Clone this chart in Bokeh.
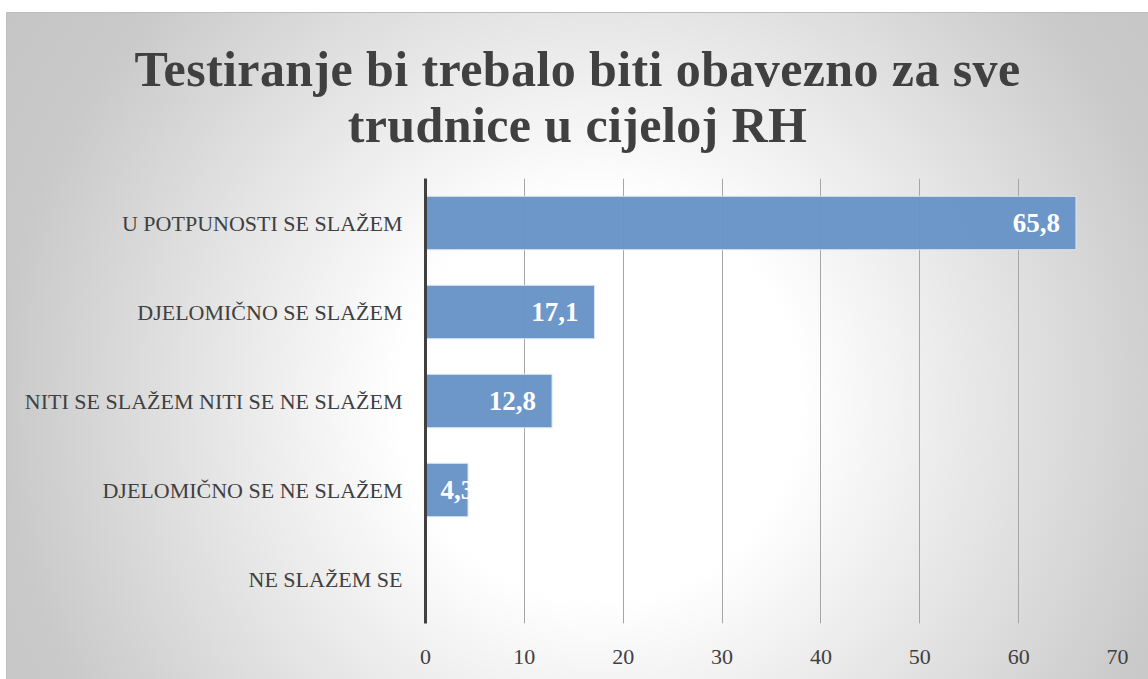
from bokeh.plotting import figure
from bokeh.models import Range1d, FactorRange, ColumnDataSource, FixedTicker, Div
from bokeh.layouts import column
from bokeh.core.properties import value
from bokeh.embed import file_html
from bokeh.resources import INLINE

categories = ["U POTPUNOSTI SE SLAŽEM", "DJELOMIČNO SE SLAŽEM",
              "NITI SE SLAŽEM NITI SE NE SLAŽEM", "DJELOMIČNO SE NE SLAŽEM", "NE SLAŽEM SE"]
values = [65.8, 17.1, 12.8, 4.3, 0]
x_ticks = [0, 10, 20, 30, 40, 50, 60, 70]
title_line1 = "Testiranje bi trebalo biti obavezno za sve"
title_line2 = "trudnice u cijeloj RH"

FONT = "Liberation Serif"
TXT = "#404040"
W = 1141

title_div = Div(text=f"{title_line1}<br>{title_line2}", width=W, height=160, margin=0,
                styles={"text-align": "center", "font-family": FONT, "font-weight": "bold",
                        "font-size": "50px", "line-height": "56px", "letter-spacing": "0.4px",
                        "color": TXT, "padding-top": "28px", "box-sizing": "border-box",
                        "width": f"{W}px"})

p = figure(width=W, height=506, output_backend="svg", toolbar_location=None,
           y_range=FactorRange(factors=list(reversed(categories))),
           x_range=Range1d(0, 70),
           min_border_left=418, min_border_right=31, min_border_bottom=56, min_border_top=5)
p.background_fill_color = None
p.border_fill_color = None
p.outline_line_color = None

bar_cats = [c for c, v in zip(categories, values) if v > 0]
bar_vals = [v for v in values if v > 0]
labels = [f"{v:.1f}".replace(".", ",") for v in bar_vals]
aligns = ["right" if v > 10 else "left" for v in bar_vals]
xs = [v if v > 10 else 0 for v in bar_vals]
offs = [-16 if v > 10 else 15 for v in bar_vals]
src = ColumnDataSource(dict(cat=bar_cats, val=bar_vals, lab=labels, al=aligns, lx=xs, off=offs))

p.hbar(y="cat", right="val", left=0, height=0.6, source=src,
       fill_color="#6894c7", fill_alpha=0.97, line_color="#dbe5f1", line_width=1)
p.text(x="lx", y="cat", text="lab", source=src, text_align="al", x_offset="off",
       text_baseline="middle", text_color="white", text_font=value(FONT),
       text_font_style="bold", text_font_size="27px")

p.xaxis.ticker = FixedTicker(ticks=x_ticks)
p.xaxis.axis_line_color = None
p.xaxis.major_tick_line_color = None
p.xaxis.minor_tick_line_color = None
p.xaxis.major_label_text_font = FONT
p.xaxis.major_label_text_font_size = "22px"
p.xaxis.major_label_text_color = TXT
p.xaxis.major_label_standoff = 20

p.yaxis.axis_line_color = "#404040"
p.yaxis.axis_line_width = 3
p.yaxis.major_tick_line_color = None
p.yaxis.minor_tick_line_color = None
p.yaxis.major_label_text_font = FONT
p.yaxis.major_label_text_font_size = "22px"
p.yaxis.major_label_text_color = TXT
p.yaxis.major_label_standoff = 17

p.xgrid.grid_line_color = "#a6a6a6"
p.xgrid.grid_line_width = 1
p.ygrid.grid_line_color = None

layout = column(title_div, p, spacing=0,
                styles={"margin-left": "6px", "margin-top": "12px",
                        "border-top": "1px solid #bdbdbd", "border-left": "1px solid #bdbdbd",
                        "background": "radial-gradient(circle at 593px 387px, #ffffff 0px, #ffffff 200px, #c9c9c9 600px, #c2c2c2 800px)"})

open("out.html", "w").write(file_html(layout, INLINE))
